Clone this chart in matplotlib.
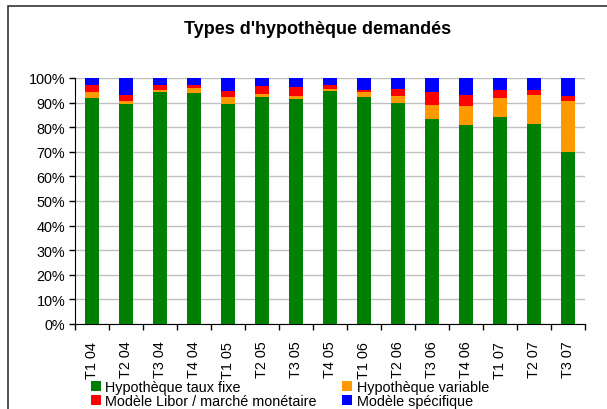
import matplotlib.pyplot as plt
import numpy as np
from matplotlib.patches import Rectangle
from matplotlib.ticker import PercentFormatter

plt.rcParams["font.family"] = ["Liberation Sans", "DejaVu Sans"]

quarters = ["T1 04", "T2 04", "T3 04", "T4 04", "T1 05", "T2 05", "T3 05", "T4 05",
            "T1 06", "T2 06", "T3 06", "T4 06", "T1 07", "T2 07", "T3 07"]
taux_fixe = [91.9, 89.5, 94.3, 93.9, 89.5, 92.3, 91.5, 94.7,
             92.3, 89.9, 83.4, 81.0, 84.2, 81.3, 69.9]
variable = [2.4, 1.2, 0.8, 2.0, 2.8, 1.2, 1.2, 0.8,
            2.0, 2.8, 5.7, 7.7, 7.7, 11.8, 20.8]
libor = [3.0, 2.5, 2.2, 1.4, 2.4, 3.3, 3.7, 1.8,
         0.8, 2.8, 5.2, 4.4, 3.2, 2.0, 2.0]
specifique = [2.7, 6.8, 2.7, 2.7, 5.3, 3.2, 3.6, 2.7,
              4.9, 4.5, 5.7, 6.9, 4.9, 4.9, 7.3]

series = [
    ("Hypothèque taux fixe", taux_fixe, "#008000"),
    ("Hypothèque variable", variable, "#FF9900"),
    ("Modèle Libor / marché monétaire", libor, "#FF0000"),
    ("Modèle spécifique", specifique, "#0000FF"),
]

fig = plt.figure(figsize=(6.07, 4.10), dpi=100)
ax = fig.add_axes([75 / 607, 1 - 325 / 410, 510 / 607, 246 / 410])

# frame around the chart area (runs off the right/bottom edge like the original)
fig.patches.append(Rectangle((8 / 607, -0.1), 1.2, 1 - 7 / 410 + 0.1, transform=fig.transFigure,
                             fill=False, edgecolor="#333333", linewidth=1.2))

x = np.arange(len(quarters))
bottom = np.zeros(len(quarters))
handles = {}
for name, vals, color in series:
    bars = ax.bar(x, vals, width=0.44, bottom=bottom, color=color, label=name, zorder=3)
    handles[name] = bars
    bottom += np.array(vals)

ax.set_xlim(-0.5, len(quarters) - 0.5)
ax.set_ylim(0, 100)
ax.set_yticks(np.arange(0, 101, 10))
ax.yaxis.set_major_formatter(PercentFormatter(decimals=0))
ax.yaxis.grid(True, color="#c0c0c0", linewidth=1, zorder=0)
ax.set_axisbelow(True)

ax.set_xticks(x)
ax.set_xticklabels(quarters, rotation=90)
ax.set_xticks(np.arange(-0.5, len(quarters)), minor=True)
ax.tick_params(axis="x", which="major", length=0, pad=12, labelsize=10.4)
ax.tick_params(axis="x", which="minor", length=4, width=1, direction="out")
ax.tick_params(axis="y", length=4, width=1, labelsize=10.4, pad=3)

for side in ("top", "right"):
    ax.spines[side].set_visible(False)
for side in ("left", "bottom"):
    ax.spines[side].set_color("black")

fig.text(318 / 607, 1 - 29 / 410, "Types d'hypothèque demandés", ha="center", va="center",
         fontsize=13, fontweight="bold")

order = ["Hypothèque taux fixe", "Modèle Libor / marché monétaire",
         "Hypothèque variable", "Modèle spécifique"]
fig.legend([handles[n] for n in order], order, ncol=2, loc="upper left",
           bbox_to_anchor=(91 / 607, 1 - 381 / 410), frameon=False, fontsize=10.4,
           handlelength=0.7, handleheight=0.7, handletextpad=0.3, labelspacing=0.0,
           columnspacing=1.75, borderpad=0, borderaxespad=0)

fig.savefig("out.png", dpi=100)
